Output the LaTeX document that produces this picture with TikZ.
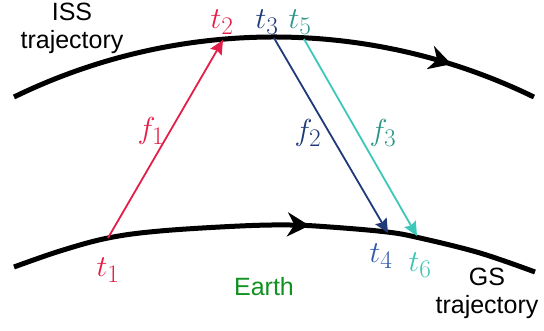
\documentclass[tikz,border=0pt]{standalone}
\usepackage{fontspec}
\setsansfont{Liberation Sans}
\usetikzlibrary{arrows.meta,decorations.markings}
\definecolor{redc}{RGB}{228,30,72}
\definecolor{dblue}{RGB}{31,58,120}
\definecolor{lblue}{RGB}{47,88,168}
\definecolor{tealline}{RGB}{60,200,184}
\definecolor{tealdark}{RGB}{42,150,138}
\definecolor{teallight}{RGB}{60,196,180}
\definecolor{earthgreen}{RGB}{16,145,32}
\tikzset{
  traj/.style={line width=5pt, black, postaction={decorate}},
  sig/.style={line width=1.8pt, -{Stealth[length=14pt,width=13pt,inset=2pt]}},
  mathlab/.style={inner sep=0pt, scale=1.22, font=\fontsize{24.88}{30}\selectfont},
  sanslab/.style={inner sep=0pt, align=center, font=\sffamily\fontsize{25}{28}\selectfont},
}
\begin{document}
\begin{tikzpicture}[x=1pt,y=-1pt]
\useasboundingbox (0,0) rectangle (544,331);
% upper (ISS) trajectory
\draw[traj, decoration={markings, mark=at position 0.835 with {\arrow{Stealth[length=22pt,width=24pt,inset=7pt]}}}]
  (14,97) arc[start angle=116, end angle=64, radius=593pt];
% lower (GS) trajectory
\draw[traj, decoration={markings, mark=at position 0.565 with {\arrow{Stealth[length=22pt,width=24pt,inset=7pt]}}}]
  plot[smooth, tension=0.6] coordinates {(14,267) (60,251) (108,238) (160,231) (240,226) (290,225) (330,227) (387,232) (420,238) (480,253) (535,272)};
% end points
\coordinate (p1) at (108,238);
\coordinate (p2) at (223,40);
\coordinate (p3) at (274,38);
\coordinate (p4) at (388,233);
\coordinate (p5) at (304,39);
\coordinate (p6) at (417,236);
\draw[sig, redc] (p1) -- (p2);
\draw[sig, dblue] (p3) -- (p4);
\draw[sig, tealline] (p5) -- (p6);
% labels
\node[mathlab, text=redc] (t1) at (108,270) {$t_1$};
\node[mathlab, text=redc] (t2) at (222,22) {$t_2$};
\node[mathlab, text=dblue] (t3) at (267,22) {$t_3$};
\node[mathlab, text=lblue] (t4) at (381,256) {$t_4$};
\node[mathlab, text=tealdark] (t5) at (300,22) {$t_5$};
\node[mathlab, text=teallight] (t6) at (420,265) {$t_6$};
\node[mathlab, text=redc] (f1) at (151,131) {$f_1$};
\node[mathlab, text=dblue] (f2) at (308,133) {$f_2$};
\node[mathlab, text=tealdark] (f3) at (383,133) {$f_3$};
\node[sanslab] (iss) at (72,28) {ISS\\trajectory};
\node[sanslab] (gs) at (487,293) {GS\\trajectory};
\node[sanslab, text=earthgreen] (earth) at (264,287) {Earth};
\end{tikzpicture}
\end{document}
